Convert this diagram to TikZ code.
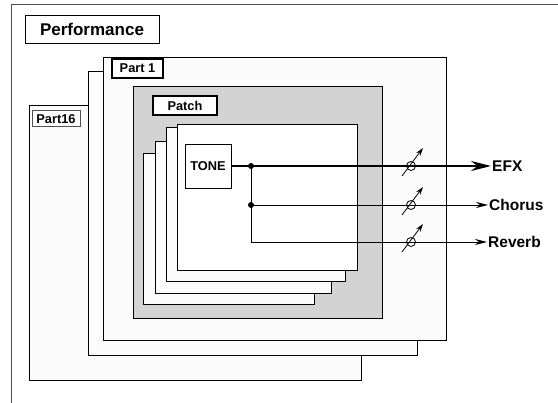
\documentclass[tikz,border=0pt]{standalone}
\usepackage{fontspec}
\setmainfont{Liberation Sans}
\usetikzlibrary{arrows.meta}
\definecolor{layerfill}{HTML}{FBFBFB}
\definecolor{patchgray}{HTML}{D3D3D3}
\definecolor{framegray}{HTML}{505050}

\begin{document}
\begin{tikzpicture}[x=1pt, y=-1pt,
      layer/.style={draw=black, line width=0.9pt, fill=layerfill},
      tag/.style={rectangle, draw, fill=white, inner sep=0pt, font=\bfseries\fontsize{12.8}{14}\selectfont},
      outlabel/.style={anchor=west, inner sep=1pt, font=\bfseries\fontsize{15.5}{17}\selectfont},
      send/.style={-{Stealth[length=12pt, width=6pt]}, line width=0.8pt},
      pot/.style={-{Stealth[length=8pt, width=5pt]}, line width=0.8pt},
      dot/.style={circle, fill=black, inner sep=0pt, minimum size=6pt}
  ]
  \useasboundingbox (0,0) rectangle (558,403);

  % Performance frame
  \draw[framegray, line width=1pt] (11,403) -- (11,5) -- (558,5);
  \node[tag, line width=0.9pt, minimum width=134pt, minimum height=28pt, font=\bfseries\fontsize{17}{19}\selectfont] (perf) at (92,29) {Performance};

  % Parts (back to front)
  \draw[layer] (29,105) rectangle (361,380);
  \draw[layer] (88,71) rectangle (417,355);
  \draw[layer] (103,57) rectangle (446,340);
  \node[tag, draw=framegray, line width=1pt, minimum width=48pt, minimum height=16pt] (part16) at (56,119) {Part16};
  \node[tag, line width=2pt, minimum width=51pt, minimum height=19pt] (part1) at (137.5,68.5) {Part 1};

  % Patch
  \draw[layer, fill=patchgray] (133,86) rectangle (382,318);
  \node[tag, line width=2pt, minimum width=64pt, minimum height=19pt] (patch) at (185,105.5) {Patch};

  % Tone layers
  \draw[layer] (143,153) rectangle (314,304);
  \draw[layer] (155,141) rectangle (331,293);
  \draw[layer] (166,127) rectangle (345,281);
  \draw[layer, fill=white] (177,124) rectangle (357,270);
  \node[tag, line width=0.9pt, minimum width=46pt, minimum height=44pt] (tone) at (208,166) {TONE};

  % Outputs
  \node[outlabel] (efx) at (491,166) {EFX};
  \node[outlabel] (chorus) at (488,205) {Chorus};
  \node[outlabel] (reverb) at (487,242) {Reverb};
  \coordinate (split1) at (251,166);
  \coordinate (split2) at (251,205);

  % Arrows
  \draw[-{Stealth[length=20pt, width=10pt]}, line width=2pt] (tone.east) -- (efx.west);
  \draw[send] (split1) -- (split2) -- (chorus.west);
  \draw[send] (split2) |- (reverb.west);
  \node[dot] at (split1) {};
  \node[dot] at (split2) {};

  % Level controls
  \foreach \y in {166,205,242} {
    \draw[line width=0.8pt] (411,\y) circle (4.5pt);
    \draw[pot] (402,\y+10) -- (423,\y-18);
  }

  \end{tikzpicture}
\end{document}
